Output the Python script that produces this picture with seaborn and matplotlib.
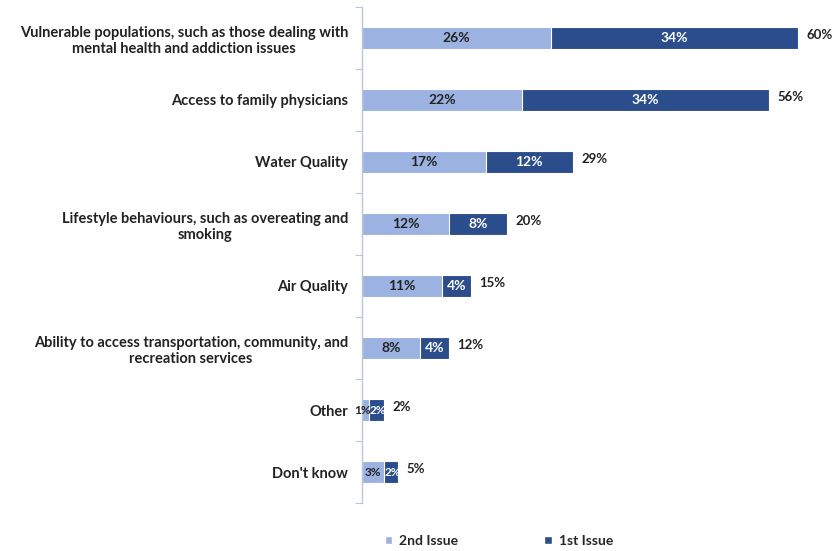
import matplotlib
matplotlib.use("Agg")
import matplotlib.pyplot as plt
import seaborn as sns
import pandas as pd
import numpy as np
from matplotlib.patches import Patch

categories = [
    "Vulnerable populations, such as those dealing with\nmental health and addiction issues",
    "Access to family physicians",
    "Water Quality",
    "Lifestyle behaviours, such as overeating and\nsmoking",
    "Air Quality",
    "Ability to access transportation, community, and\nrecreation services",
    "Other",
    "Don't know",
]
second_issue = [26, 22, 17, 12, 11, 8, 1, 3]
first_issue = [34, 34, 12, 8, 4, 4, 2, 2]
total_labels = [60, 56, 29, 20, 15, 12, 2, 5]

LIGHT = "#9cb3e2"
DARK = "#2c4d8c"
TEXT = "#222222"
FS = 10.5

sns.set_theme(style="white")
plt.rcParams["font.family"] = ["Lato", "DejaVu Sans"]
plt.rcParams["font.weight"] = "bold"

df = pd.DataFrame({
    "category": categories,
    "second": second_issue,
    "first": first_issue,
})
df["stacked"] = df["second"] + df["first"]

fig = plt.figure(figsize=(8.34, 5.51), dpi=100)
ax = fig.add_axes([362 / 834, 1 - 503 / 551, 1 - 362 / 834, (503 - 7) / 551])

sns.barplot(data=df, y="category", x="stacked", color=DARK, orient="h",
            width=0.37, saturation=1, ax=ax, edgecolor="white", linewidth=0.8)
sns.barplot(data=df, y="category", x="second", color=LIGHT, orient="h",
            width=0.37, saturation=1, ax=ax, edgecolor="white", linewidth=0.8)

ax.set_xlim(0, 64.9)
ax.set_ylim(len(categories) - 0.5, -0.5)
ax.set_xlabel("")
ax.set_ylabel("")
ax.set_xticks([])

for i, (s, f, t) in enumerate(zip(second_issue, first_issue, total_labels)):
    narrow = s + f < 6
    fs_in = FS - 2 if narrow else FS - 0.5
    ax.annotate(f"{s}%", xy=(s / 2, i), xytext=(-2.5 if s < 2 else 0, 0),
                textcoords="offset points", ha="center", va="center",
                fontsize=fs_in, fontweight="bold", color=TEXT)
    ax.annotate(f"{f}%", xy=(s + f / 2, i), xytext=(1 if narrow else 0, 0),
                textcoords="offset points", ha="center", va="center",
                fontsize=fs_in, fontweight="bold", color="white")
    ax.annotate(f"{t}%", xy=(s + f, i), xytext=(6, 2), textcoords="offset points",
                ha="left", va="center", fontsize=FS - 1, fontweight="bold", color=TEXT)

# category labels, right-aligned with centered wrapped lines
ax.set_yticks(range(len(categories)))
ax.set_yticklabels(categories, fontsize=FS, fontweight="bold", color=TEXT,
                   multialignment="center", linespacing=1.25)
ax.tick_params(axis="y", which="major", length=0, pad=10)
ax.set_yticks(np.arange(-0.5, len(categories), 1), minor=True)
ax.tick_params(axis="y", which="minor", length=5, width=0.8, color="#b9c6de", left=True)

for side in ["top", "right", "bottom"]:
    ax.spines[side].set_visible(False)
ax.spines["left"].set_color("#b9c6de")
ax.spines["left"].set_linewidth(1.0)

handles = [Patch(facecolor=LIGHT, label="2nd Issue"), Patch(facecolor=DARK, label="1st Issue")]
fig.legend(handles=handles, loc="center left", bbox_to_anchor=(372 / 834, 1 - 541 / 551),
           ncol=2, frameon=False, handlelength=0.55, handleheight=0.55,
           columnspacing=6.2, handletextpad=0.5, prop={"weight": "bold", "size": FS - 0.5})

fig.savefig("out.png", dpi=100, facecolor="white")
